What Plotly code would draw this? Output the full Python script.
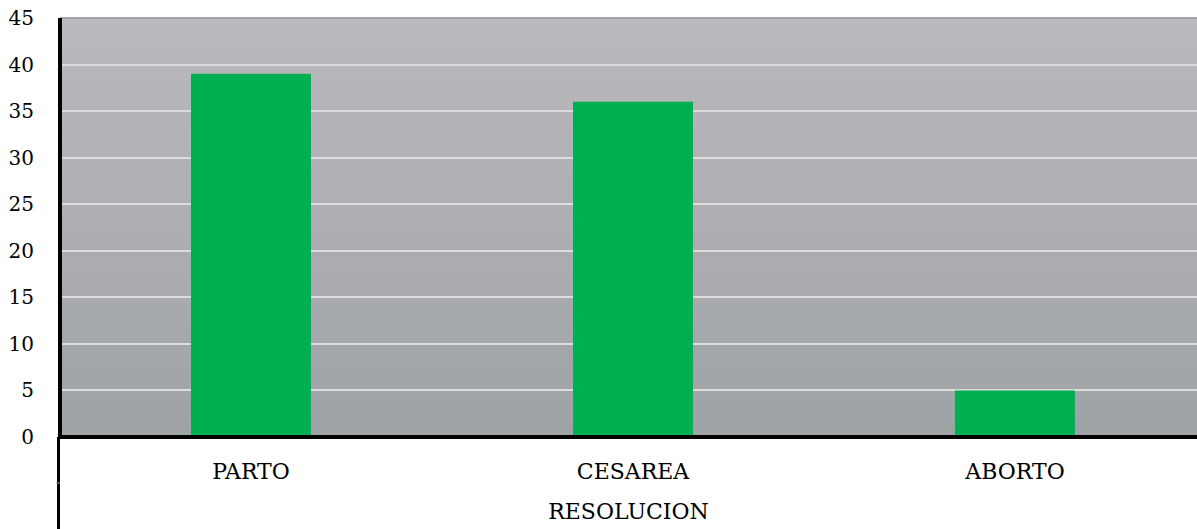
import plotly.graph_objects as go

categories = ["PARTO", "CESAREA", "ABORTO"]
values = [39, 36, 5]
y_ticks = [0, 5, 10, 15, 20, 25, 30, 35, 40, 45]
x_title = "RESOLUCION"

W, H = 1197, 529
M_L, M_R, M_T, M_B = 60, 0, 18, 92
plot_w = W - M_L - M_R
plot_h = H - M_T - M_B
cat_px = 382  # pixel width of one category slot

FONT = "DejaVu Serif"
FS = 20
FS_X = 22

fig = go.Figure()
fig.add_trace(go.Bar(
    x=categories, y=values,
    marker=dict(color="#00b050", line=dict(width=0)),
    width=120 / cat_px,
    hoverinfo="x+y",
))

# vertical gradient behind the plot area, built from thin strips
top_rgb = (186, 185, 190)
bot_rgb = (159, 163, 165)
n_strips = 60
shapes = []
for i in range(n_strips):
    t = i / (n_strips - 1)
    c = tuple(round(top_rgb[k] + (bot_rgb[k] - top_rgb[k]) * t) for k in range(3))
    y1 = 1 - i / n_strips
    y0 = 1 - (i + 1) / n_strips
    shapes.append(dict(type="rect", xref="paper", yref="paper",
                       x0=0, x1=1, y0=y0, y1=y1 + 0.002,
                       fillcolor="rgb(%d,%d,%d)" % c, line=dict(width=0),
                       layer="below"))

# thin top border of the plot area
shapes.append(dict(type="line", xref="paper", yref="paper", x0=0, x1=1, y0=1, y1=1,
                   line=dict(color="#7d838f", width=1), layer="above"))
# zero baseline
shapes.append(dict(type="line", xref="paper", yref="paper", x0=0, x1=1, y0=0, y1=0,
                   line=dict(color="black", width=4), layer="above"))
# left axis spanning the plot and the category area below it
shapes.append(dict(type="line", xref="paper", yref="paper", x0=0, x1=0,
                   y0=1, y1=0,
                   line=dict(color="black", width=4), layer="above"))
shapes.append(dict(type="line", xref="paper", yref="paper",
                   x0=-1.5 / plot_w, x1=-1.5 / plot_w,
                   y0=0, y1=-M_B / plot_h,
                   line=dict(color="black", width=3), layer="above"))
# small divider between category row and title row
shapes.append(dict(type="line", xref="paper", yref="paper",
                   x0=-4 / plot_w, x1=0,
                   y0=-46 / plot_h, y1=-46 / plot_h,
                   line=dict(color="#9a9a9a", width=1), layer="above"))

fig.update_layout(
    width=W, height=H,
    margin=dict(l=M_L, r=M_R, t=M_T, b=M_B),
    paper_bgcolor="white",
    plot_bgcolor="rgba(0,0,0,0)",
    font=dict(family=FONT, size=FS, color="black"),
    showlegend=False,
    shapes=shapes,
    xaxis=dict(
        range=[-0.5, -0.5 + plot_w / cat_px],
        showgrid=False, showline=False, zeroline=False, ticks="",
        ticklabelstandoff=19,
        tickfont=dict(family=FONT, size=FS_X),
        title=dict(text=x_title, font=dict(family=FONT, size=FS_X), standoff=20),
    ),
    yaxis=dict(
        range=[0, 45], tickvals=y_ticks, ticktext=[str(v) for v in y_ticks],
        showgrid=True, gridcolor="#dcdcdc", gridwidth=2,
        zeroline=False, showline=False, ticks="",
        ticklabelstandoff=25,
        tickfont=dict(family=FONT, size=FS),
    ),
)

fig.write_html("out.html")
